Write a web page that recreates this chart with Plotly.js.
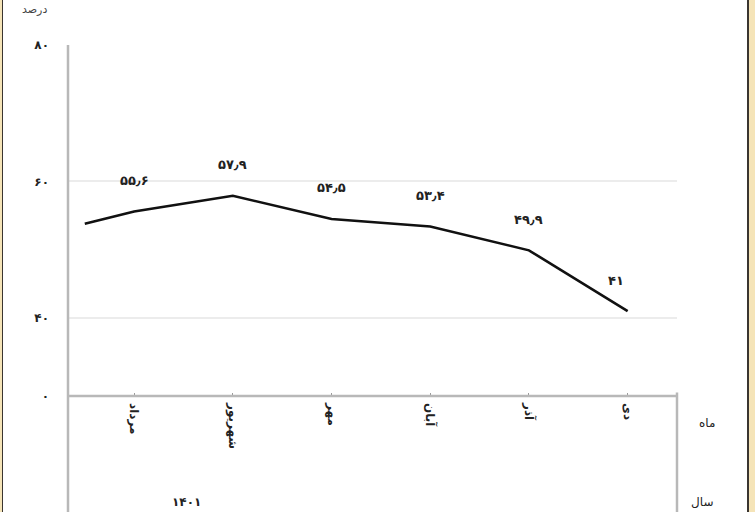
<!DOCTYPE html>
<html>
<head>
<meta charset="utf-8">
<script src="https://cdn.plot.ly/plotly-3.0.1.min.js"></script>
<style>
html,body{margin:0;padding:0;background:#fff;}
#wrap{position:relative;width:755px;height:512px;overflow:hidden;}
#chart{position:absolute;left:0;top:0;width:755px;height:512px;}
.bl{position:absolute;top:0;height:512px;background:#f5e4b8;pointer-events:none;}
.dk{position:absolute;top:0;height:512px;width:1px;background:#3a3530;pointer-events:none;}
</style>
</head>
<body>
<div id="wrap">
<div id="chart"></div>
<div class="bl" style="left:0;width:2px;"></div>
<div class="dk" style="left:2px;"></div>
<div class="dk" style="left:747px;width:2px;"></div>
<div class="bl" style="left:749px;width:6px;"></div>
</div>
<script>
// Data
const months = ['مرداد', 'شهریور', 'مهر', 'آبان', 'آذر', 'دی'];
const values = [55.6, 57.9, 54.5, 53.4, 49.9, 41];
const valueLabels = ['۵۵٫۶', '۵۷٫۹', '۵۴٫۵', '۵۳٫۴', '۴۹٫۹', '۴۱'];
const prevValue = [53.8];           // leading segment from previous month
const yTickVals = [28.6, 40, 60, 80];
const yTickText = ['۰', '۴۰', '۶۰', '۸۰'];
const yearLabel = '۱۴۰۱';

const xs = months.map((m, i) => i + 1);
const lineX = [0.5].concat(xs);
const lineY = prevValue.concat(values);

const fontFam = '"DejaVu Sans", "Noto Sans", sans-serif';

const trace = {
  x: lineX, y: lineY, type: 'scatter', mode: 'lines',
  line: {color: '#111', width: 2.6}, hoverinfo: 'none'
};

const annotations = values.map((v, i) => ({
  x: xs[i], y: v, xref: 'x', yref: 'y', text: valueLabels[i],
  showarrow: false, yshift: 31, xshift: i === values.length - 1 ? -12 : 0,
  font: {family: fontFam, size: 13, color: '#222', weight: 'bold'}
}));
annotations.push(
  {x: 1.049, y: -0.077, xref: 'paper', yref: 'paper', text: 'ماه', showarrow: false,
   xanchor: 'center', yanchor: 'middle', font: {family: fontFam, size: 12, color: '#222'}},
  {x: 1.041, y: -0.302, xref: 'paper', yref: 'paper', text: 'سال', showarrow: false,
   xanchor: 'center', yanchor: 'middle', font: {family: fontFam, size: 12, color: '#222'}},
  {x: 0.195, y: -0.302, xref: 'paper', yref: 'paper', text: yearLabel, showarrow: false,
   xanchor: 'center', yanchor: 'middle', font: {family: fontFam, size: 12, color: '#222', weight: 'bold'}},
  {x: -0.055, y: 1.126, xref: 'paper', yref: 'paper', text: 'درصد', showarrow: false,
   xanchor: 'center', yanchor: 'top', font: {family: fontFam, size: 11, color: '#444'}}
);

const axisCol = '#b8b8b8';
const shapes = [
  {type: 'line', xref: 'paper', yref: 'paper', x0: 0, x1: 0, y0: -0.35, y1: 1, line: {color: axisCol, width: 2.5}},
  {type: 'line', xref: 'paper', yref: 'paper', x0: 0, x1: 1, y0: 0, y1: 0, line: {color: axisCol, width: 2.5}},
  {type: 'line', xref: 'paper', yref: 'paper', x0: 1, x1: 1, y0: -0.35, y1: 0.01, line: {color: axisCol, width: 2.5}}
];

const layout = {
  width: 755, height: 512,
  margin: {l: 68, r: 78, t: 45, b: 116},
  paper_bgcolor: '#fff', plot_bgcolor: '#fff',
  showlegend: false,
  xaxis: {
    range: [0.33, 6.5], tickvals: xs, ticktext: months, tickangle: 90,
    showgrid: false, zeroline: false, showline: false,
    ticks: 'inside', ticklen: 3, tickcolor: '#999', tickwidth: 1,
    ticklabelstandoff: 6,
    tickfont: {family: fontFam, size: 12, color: '#222', weight: 'bold'}, fixedrange: true
  },
  yaxis: {
    range: [28.55, 80], tickvals: yTickVals, ticktext: yTickText,
    showgrid: true, gridcolor: '#ececec', gridwidth: 2, zeroline: false, showline: false,
    ticks: '', ticklabelstandoff: 18,
    tickfont: {family: fontFam, size: 12, color: '#222', weight: 'bold'}, fixedrange: true
  },
  annotations: annotations,
  shapes: shapes
};

Plotly.newPlot('chart', [trace], layout, {displayModeBar: false, staticPlot: true});
</script>
</body>
</html>
